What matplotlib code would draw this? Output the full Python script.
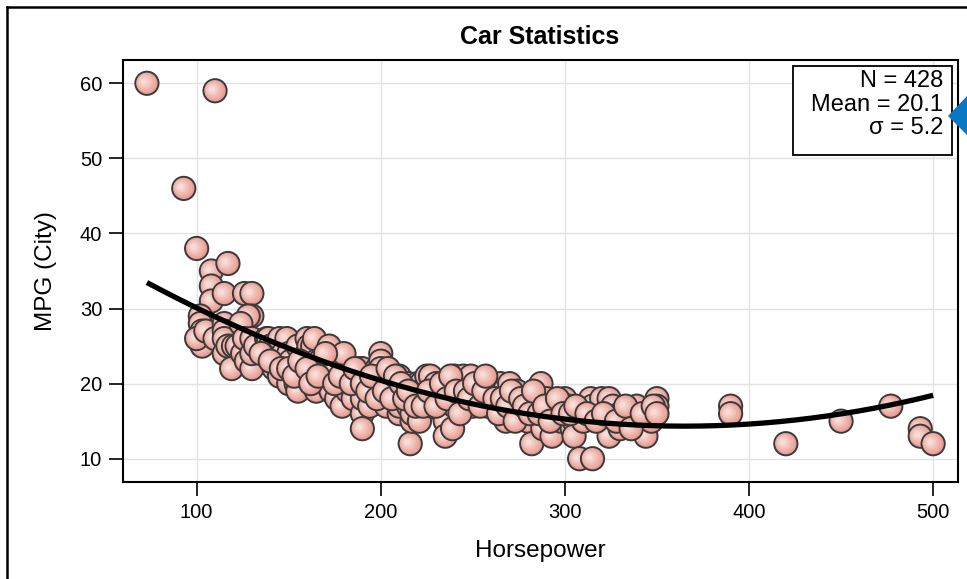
import numpy as np
import matplotlib
matplotlib.use("Agg")
import matplotlib.pyplot as plt
from matplotlib.path import Path
from matplotlib.collections import PathCollection
from matplotlib.patches import Rectangle, Polygon
from matplotlib.lines import Line2D
from matplotlib.transforms import IdentityTransform

plt.rcParams["font.family"] = ["Liberation Sans", "DejaVu Sans"]

# datos (horsepower vs mpg ciudad)
horsepower = [
    73, 110, 93, 100, 108, 117, 108, 108, 115, 126,
    130, 130, 128, 102, 102, 103, 104, 103, 100, 105,
    110, 115, 115, 115, 115, 117, 119, 120, 122, 124,
    125, 126, 127, 130, 130, 130, 132, 138, 139, 140,
    142, 143, 145, 145, 147, 149, 150, 150, 151, 154,
    155, 155, 157, 159, 160, 160, 161, 163, 164, 165,
    165, 167, 168, 170, 170, 172, 173, 175, 176, 179,
    180, 181, 182, 185, 185, 188, 190, 190, 190, 190,
    192, 194, 196, 197, 198, 200, 200, 200, 200, 200,
    200, 200, 201, 203, 205, 207, 209, 209, 210, 210,
    210, 212, 215, 215, 216, 217, 217, 218, 220, 220,
    221, 222, 224, 225, 225, 227, 228, 229, 230, 232,
    234, 235, 235, 237, 239, 240, 240, 240, 242, 244,
    245, 247, 249, 250, 250, 252, 253, 255, 258, 259,
    260, 263, 265, 267, 268, 270, 270, 272, 274, 275,
    277, 280, 280, 282, 285, 287, 288, 290, 290, 293,
    295, 298, 300, 300, 302, 304, 305, 305, 308, 310,
    310, 314, 315, 315, 318, 320, 322, 324, 324, 326,
    330, 330, 334, 339, 340, 344, 345, 347, 350, 350,
    135, 140, 146, 150, 153, 156, 160, 162, 166, 170,
    175, 178, 184, 186, 190, 193, 195, 198, 202, 204,
    206, 208, 211, 213, 215, 219, 223, 226, 230, 233,
    236, 238, 241, 243, 246, 248, 251, 254, 256, 257,
    262, 264, 266, 269, 271, 273, 276, 278, 281, 283,
    286, 289, 292, 296, 299, 303, 306, 312, 317, 321,
    328, 333, 336, 342, 348,
    350, 390, 390, 420, 450, 477, 493, 493, 500,
]
mpg_city = [
    60, 59, 46, 38, 35, 36, 33, 31, 32, 32,
    32, 29, 29, 29, 28, 27, 26, 25, 26, 27,
    26, 28, 27, 26, 24, 25, 22, 25, 25, 28,
    24, 26, 23, 22, 24, 26, 25, 26, 26, 25,
    22, 25, 26, 21, 24, 26, 24, 20, 23, 20,
    19, 25, 22, 21, 26, 24, 25, 25, 26, 19,
    23, 23, 21, 22, 20, 25, 19, 22, 18, 17,
    24, 20, 19, 21, 18, 22, 22, 16, 14, 18,
    20, 17, 19, 21, 22, 24, 23, 22, 21, 20,
    19, 18, 21, 17, 19, 20, 20, 18, 16, 17,
    21, 19, 17, 20, 12, 15, 16, 19, 18, 20,
    15, 20, 19, 21, 18, 21, 17, 19, 20, 18,
    16, 15, 13, 19, 14, 21, 18, 17, 20, 18,
    21, 20, 21, 19, 17, 19, 18, 20, 17, 18,
    19, 17, 20, 19, 15, 18, 20, 16, 19, 17,
    16, 18, 15, 12, 17, 20, 14, 16, 18, 13,
    17, 15, 18, 16, 17, 14, 15, 13, 10, 17,
    15, 18, 17, 10, 16, 18, 15, 18, 13, 17,
    14, 16, 16, 17, 15, 13, 16, 15, 18, 17,
    24, 23, 22, 22, 21, 23, 22, 20, 21, 24,
    20, 21, 20, 22, 20, 19, 21, 18, 19, 22,
    18, 21, 20, 18, 19, 17, 17, 19, 17, 20,
    18, 21, 19, 16, 19, 18, 20, 17, 19, 21,
    18, 16, 18, 17, 19, 15, 18, 17, 16, 19,
    16, 17, 15, 18, 16, 16, 17, 16, 15, 16,
    15, 17, 14, 16, 17,
    16, 17, 16, 12, 15, 17, 14, 13, 12,
]
x_ticks = [100, 200, 300, 400, 500]
y_ticks = [10, 20, 30, 40, 50, 60]
stats_labels = ["N = 428", "Mean = 20.1", "σ = 5.2"]

W, H = 967, 579
fig = plt.figure(figsize=(W / 100, H / 100), dpi=100)
ax = fig.add_axes([123 / W, 1 - 482 / H, (958 - 123) / W, (482 - 60) / H])

# marcadores con degradado: circulos concentricos desplazados
capas = [(0.0, 0.0, 0.5, "#e89e95"),
         (-0.04, 0.03, 0.41, "#edaea6"),
         (-0.08, 0.05, 0.32, "#f1beb7"),
         (-0.11, 0.06, 0.23, "#f5cdc7"),
         (-0.13, 0.07, 0.13, "#f9dcd8")]
paths = [Path.circle((cx, cy), r) for cx, cy, r, _ in capas]
offsets = np.repeat(np.column_stack([horsepower, mpg_city]), len(capas), axis=0)
coll = PathCollection(paths, sizes=[280], offsets=offsets,
                      offset_transform=ax.transData,
                      facecolors=[c for *_, c in capas],
                      edgecolors=["#3a3a3a"] + ["none"] * (len(capas) - 1),
                      linewidths=[1.4] + [0] * (len(capas) - 1),
                      zorder=3)
coll.set_transform(IdentityTransform())
ax.add_collection(coll, autolim=False)

# ajuste cuadratico
coef = np.polyfit(horsepower, mpg_city, 2)
xs = np.linspace(min(horsepower), max(horsepower), 200)
ax.plot(xs, np.polyval(coef, xs), color="black", lw=3.8, zorder=4,
        solid_capstyle="butt")

ax.set_xlim(60, 513.5)
ax.set_ylim(6.9, 63.1)
ax.set_xticks(x_ticks)
ax.set_yticks(y_ticks)
ax.grid(color="#e2e2e2", lw=1)
ax.set_axisbelow(True)
for s in ax.spines.values():
    s.set_linewidth(1.5)
ax.tick_params(length=10, width=1.2, labelsize=14.5, pad=5)

# titulo y etiquetas
fig.text(540 / W, 1 - 37 / H, "Car Statistics", ha="center", va="center",
         fontsize=18, fontweight="bold")
fig.text(540 / W, 1 - 551 / H, "Horsepower", ha="center", va="center",
         fontsize=17.5)
fig.text(46 / W, 1 - 271 / H, "MPG (City)", ha="center", va="center",
         fontsize=17.5, rotation=90)

# caja de estadisticas
ax.add_patch(Rectangle((0.8024, 0.7749), 0.9928 - 0.8024, 0.9858 - 0.7749,
                       transform=ax.transAxes, fc="white", ec="black",
                       lw=1.3, zorder=5))
for lab, yy in zip(stats_labels, [0.950, 0.894, 0.839]):
    ax.text(0.982, yy, lab, transform=ax.transAxes, ha="right",
            va="center", fontsize=17, zorder=6)

# bordes de la figura y flecha azul
fig.add_artist(Line2D([7 / W, 7 / W], [0, 1 - 7 / H], color="black", lw=1.8))
fig.add_artist(Line2D([7 / W, 1], [1 - 7 / H, 1 - 7 / H], color="black", lw=1.8))
fig.add_artist(Polygon([(948 / W, 1 - 116 / H), (1, 1 - 96 / H), (1, 1 - 135 / H)],
                       closed=True, fc="#0a76c4", ec="none"))

fig.savefig("out.png", dpi=100)
